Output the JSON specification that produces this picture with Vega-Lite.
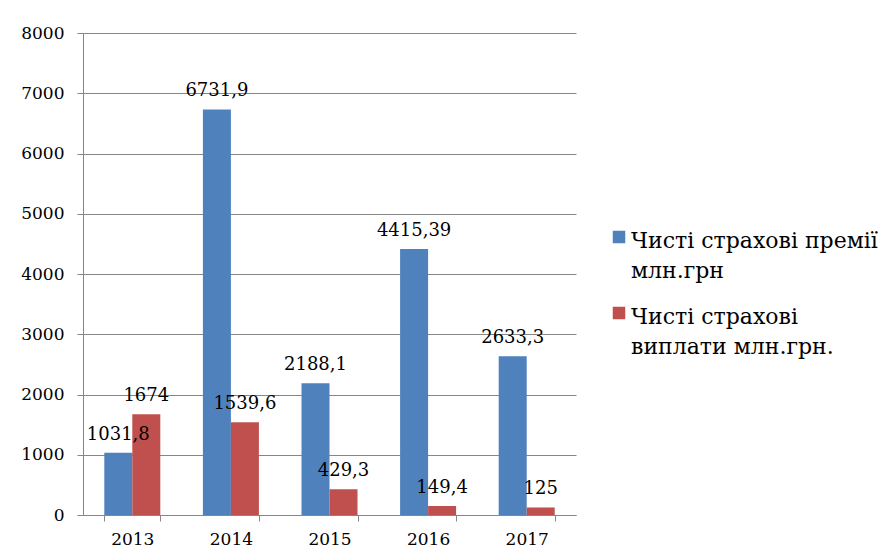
{
  "$schema": "https://vega.github.io/schema/vega-lite/v6.json",
  "width": 493,
  "height": 482,
  "autosize": {"type": "none"},
  "padding": {"left": 83, "top": 33, "right": 314, "bottom": 45},
  "background": "white",
  "data": {
    "values": [
      {"year": "2013", "series": "Чисті страхові премії млн.грн", "value": 1031.8, "label": "1031,8"},
      {"year": "2013", "series": "Чисті страхові виплати млн.грн.", "value": 1674, "label": "1674"},
      {"year": "2014", "series": "Чисті страхові премії млн.грн", "value": 6731.9, "label": "6731,9"},
      {"year": "2014", "series": "Чисті страхові виплати млн.грн.", "value": 1539.6, "label": "1539,6"},
      {"year": "2015", "series": "Чисті страхові премії млн.грн", "value": 2188.1, "label": "2188,1"},
      {"year": "2015", "series": "Чисті страхові виплати млн.грн.", "value": 429.3, "label": "429,3"},
      {"year": "2016", "series": "Чисті страхові премії млн.грн", "value": 4415.39, "label": "4415,39"},
      {"year": "2016", "series": "Чисті страхові виплати млн.грн.", "value": 149.4, "label": "149,4"},
      {"year": "2017", "series": "Чисті страхові премії млн.грн", "value": 2633.3, "label": "2633,3"},
      {"year": "2017", "series": "Чисті страхові виплати млн.грн.", "value": 125, "label": "125"}
    ]
  },
  "encoding": {
    "x": {
      "field": "year",
      "type": "nominal",
      "scale": {"paddingInner": 0.432, "paddingOuter": 0.216},
      "axis": {
        "title": null,
        "labelAngle": 0,
        "labelFont": "DejaVu Serif",
        "labelFontSize": 17,
        "labelColor": "black",
        "labelPadding": 10,
        "domainColor": "#868686",
        "tickColor": "#868686",
        "tickSize": 6,
        "tickBand": "extent"
      }
    },
    "xOffset": {
      "field": "series",
      "type": "nominal",
      "sort": ["Чисті страхові премії млн.грн", "Чисті страхові виплати млн.грн."]
    },
    "y": {
      "field": "value",
      "type": "quantitative",
      "scale": {"domain": [0, 8000], "nice": false},
      "axis": {
        "title": null,
        "values": [0, 1000, 2000, 3000, 4000, 5000, 6000, 7000, 8000],
        "format": "d",
        "labelFont": "DejaVu Serif",
        "labelFontSize": 17,
        "labelColor": "black",
        "labelPadding": 13,
        "domainColor": "#868686",
        "tickColor": "#868686",
        "tickSize": 6,
        "grid": true,
        "gridColor": "#868686",
        "gridOpacity": 1
      }
    }
  },
  "layer": [
    {
      "mark": {"type": "bar"},
      "encoding": {
        "color": {
          "field": "series",
          "type": "nominal",
          "scale": {
            "domain": ["Чисті страхові премії млн.грн", "Чисті страхові виплати млн.грн."],
            "range": ["#4F81BD", "#C0504D"]
          },
          "legend": {
            "title": null,
            "orient": "none",
            "legendX": 525,
            "legendY": 193,
            "symbolType": "square",
            "symbolSize": 156,
            "symbolStrokeWidth": 0,
            "symbolOpacity": 1,
            "labelFont": "DejaVu Serif",
            "labelFontSize": 22,
            "labelColor": "black",
            "labelLimit": 400,
            "labelOffset": 1,
            "rowPadding": 20,
            "labelBaseline": "alphabetic",
            "labelExpr": "datum.label == 'Чисті страхові премії млн.грн' ? ['Чисті страхові премії', 'млн.грн'] : ['Чисті страхові', 'виплати млн.грн.']",
            "encode": {
              "labels": {"update": {"dy": {"value": 11}, "lineHeight": {"value": 30}}}
            }
          }
        }
      }
    },
    {
      "mark": {
        "type": "text",
        "baseline": "alphabetic",
        "dy": -13,
        "font": "DejaVu Serif",
        "fontSize": 18,
        "color": "black"
      },
      "encoding": {
        "text": {"field": "label", "type": "nominal"}
      }
    }
  ],
  "config": {
    "view": {"stroke": null},
    "font": "DejaVu Serif"
  }
}
